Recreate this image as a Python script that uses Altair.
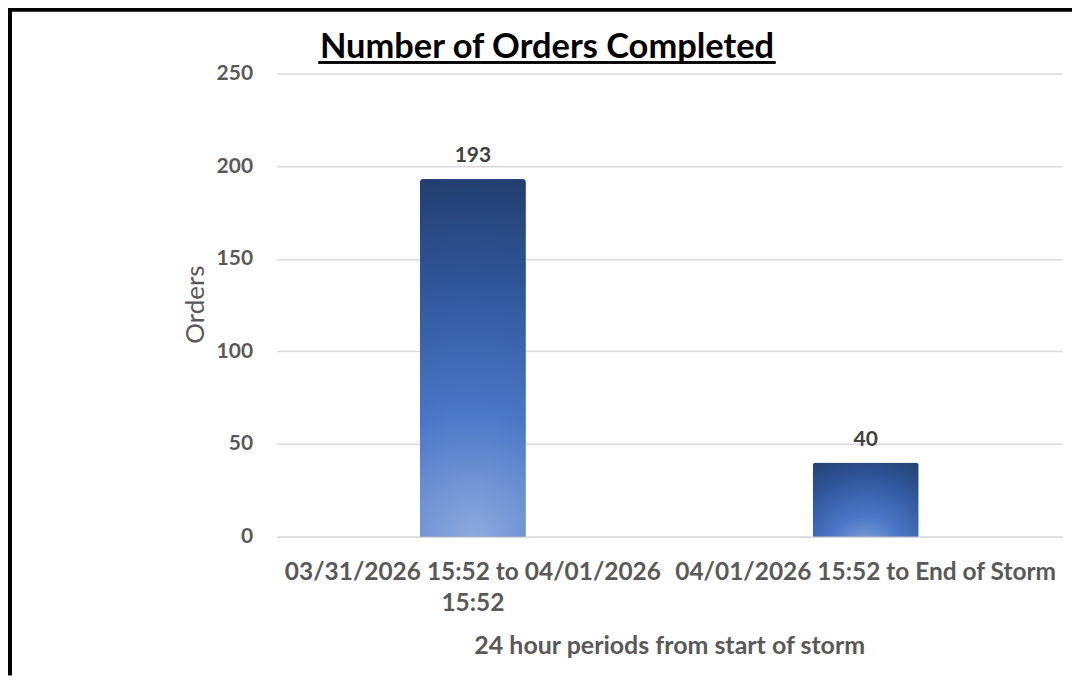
import altair as alt
import pandas as pd

categories = ["03/31/2026 15:52 to 04/01/2026\n15:52", "04/01/2026 15:52 to End of Storm"]
orders = [193, 40]
y_ticks = [0, 50, 100, 150, 200, 250]

df = pd.DataFrame({"period": categories, "orders": orders})

FONT = "Lato"
GRAY = "#595959"

W, H = 787, 464
PAD_L, PAD_T = 269, 65
TOT_W, TOT_H = 1066, 668

grad = alt.RadialGradient(
    gradient="radial",
    x1=0.5, y1=1.0, x2=0.5, y2=1.0, r1=0, r2=1.0,
    stops=[
        alt.GradientStop(offset=0.0, color="#8eaadd"),
        alt.GradientStop(offset=0.35, color="#4a77c7"),
        alt.GradientStop(offset=0.7, color="#30579b"),
        alt.GradientStop(offset=1.0, color="#233f6f"),
    ],
)

base = alt.Chart(df)

x_enc = alt.X(
    "period:N",
    sort=categories,
    scale=alt.Scale(paddingInner=0, paddingOuter=0),
    axis=alt.Axis(
        title="24 hour periods from start of storm",
        labelAngle=0,
        labelExpr="split(datum.label, '\\n')",
        labelFont=FONT, labelFontSize=24.5, labelFontWeight="bold", labelColor=GRAY,
        labelPadding=24, labelBaseline="top", labelLineHeight=31, labelLimit=600,
        ticks=False, domain=True, domainColor="#d9d9d9", domainWidth=1.5,
        grid=False,
        titleFont=FONT, titleFontSize=25, titleFontWeight="bold", titleColor=GRAY,
        titleX=W / 2, titleY=109, titleBaseline="middle",
    ),
)
y_enc = alt.Y(
    "orders:Q",
    scale=alt.Scale(domain=[0, 250], nice=False),
    axis=alt.Axis(
        title="Orders", values=y_ticks,
        labelFont=FONT, labelFontSize=21, labelFontWeight="bold", labelColor=GRAY,
        labelPadding=24, ticks=False, domain=False,
        grid=True, gridColor="#d9d9d9", gridWidth=1.5,
        titleFont=FONT, titleFontSize=26, titleFontWeight="normal", titleColor=GRAY,
        titleX=-81, titleY=H / 2 - 1, titleAngle=-90, titleBaseline="middle", titleAlign="center",
    ),
)

bars = base.mark_bar(
    color=grad, width=alt.RelativeBandSize(0.27),
    cornerRadiusTopLeft=3, cornerRadiusTopRight=3,
).encode(x=x_enc, y=y_enc)

labels = base.mark_text(
    font=FONT, fontSize=21, fontWeight="bold", color="#404040", dy=-17, baseline="alphabetic"
).encode(x=alt.X("period:N", sort=categories), y="orders:Q", text="orders:Q")

title_text = alt.Chart(pd.DataFrame({"t": ["Number of Orders Completed"]})).mark_text(
    font=FONT, fontSize=34.5, fontWeight="bold", color="black", align="center", baseline="alphabetic"
).encode(x=alt.value(271), y=alt.value(-16), text="t:N")

underline = base.mark_rule(color="black", strokeWidth=2.5).encode(
    x=alt.value(42), x2=alt.value(500), y=alt.value(-11)
)

left_border = base.mark_rule(color="black", strokeWidth=5).encode(
    x=alt.value(-PAD_L + 1.5), y=alt.value(-PAD_T), y2=alt.value(TOT_H - PAD_T)
)
top_border = base.mark_rule(color="black", strokeWidth=4).encode(
    x=alt.value(-PAD_L), x2=alt.value(TOT_W - PAD_L), y=alt.value(-PAD_T + 1)
)

chart = alt.layer(bars, labels, title_text, underline, left_border, top_border).properties(
    width=W, height=H,
    background="white",
    autosize=alt.AutoSizeParams(type="none"),
    padding={"left": PAD_L, "top": PAD_T, "right": TOT_W - PAD_L - W, "bottom": TOT_H - PAD_T - H},
).configure_view(
    stroke="transparent", strokeWidth=0
).configure_axisX(grid=False)

chart.save("out.html", embed_options={"renderer": "svg", "actions": False})
